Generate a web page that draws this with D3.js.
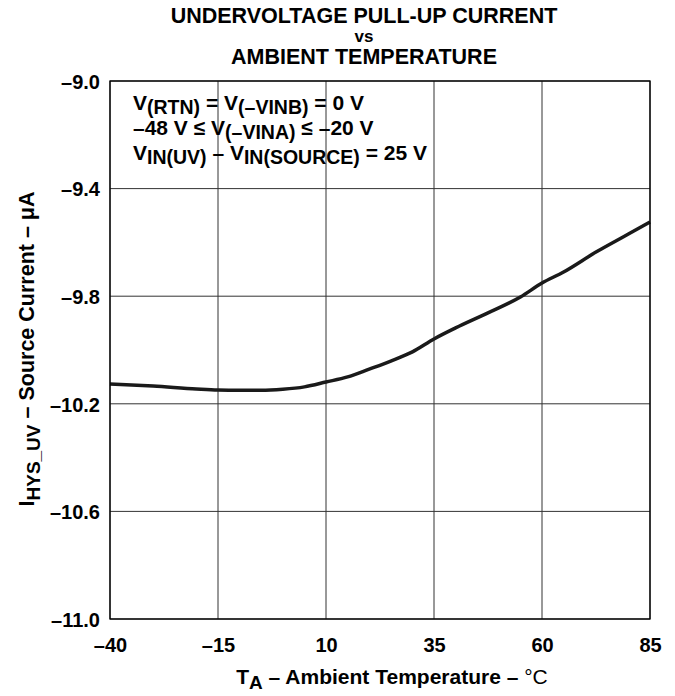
<!DOCTYPE html>
<html><head><meta charset="utf-8">
<script src="https://cdn.jsdelivr.net/npm/d3@7"></script>
<style>body{margin:0;background:#fff}text{font-family:"Liberation Sans",Arial,sans-serif;font-weight:bold;fill:#000}</style>
</head><body><svg id="c" width="675" height="696"></svg>
<script>
const temps = [-40,-30,-20,-15,-10,-5,0,5,10,15,20,25,30,35,40,47.5,55,60,65,72.5,80,85];
const current = [-10.126,-10.134,-10.145,-10.149,-10.150,-10.150,-10.146,-10.137,-10.119,-10.100,-10.071,-10.041,-10.007,-9.959,-9.918,-9.862,-9.803,-9.751,-9.710,-9.636,-9.569,-9.524];
const xTicks = [-40,-15,10,35,60,85];
const yTicks = [-9.0,-9.4,-9.8,-10.2,-10.6,-11.0];

const svg = d3.select("#c");
const L=110,R=650,T=81,B=619;
const x = d3.scaleLinear().domain([-40,85]).range([L,R]);
const y = d3.scaleLinear().domain([-11.0,-9.0]).range([B,T]);

// grid
svg.append("g").selectAll("line").data(xTicks).join("line")
  .attr("x1",d=>x(d)).attr("x2",d=>x(d)).attr("y1",T).attr("y2",B)
  .attr("stroke","#333").attr("stroke-width",1);
svg.append("g").selectAll("line").data(yTicks).join("line")
  .attr("x1",L).attr("x2",R).attr("y1",d=>y(d)).attr("y2",d=>y(d))
  .attr("stroke","#333").attr("stroke-width",1);

// curve
svg.append("path").datum(temps.map((t,i)=>[t,current[i]]))
  .attr("d",d3.line().x(d=>x(d[0])).y(d=>y(d[1])).curve(d3.curveMonotoneX))
  .attr("fill","none").attr("stroke","#1a1a1a").attr("stroke-width",3.5).attr("stroke-linejoin","round");

// frame
svg.append("rect").attr("x",L).attr("y",T).attr("width",R-L).attr("height",B-T)
  .attr("fill","none").attr("stroke","#000").attr("stroke-width",1.3);

// axes labels via d3 axes
const xa = svg.append("g").attr("transform",`translate(0,${B})`)
  .call(d3.axisBottom(x).tickValues(xTicks).tickSize(0).tickPadding(17).tickFormat(d=>(d<0?"–":"")+Math.abs(d)));
const ya = svg.append("g").attr("transform",`translate(${L},0)`)
  .call(d3.axisLeft(y).tickValues(yTicks).tickSize(0).tickPadding(10).tickFormat(d=>(d<0?"–":"")+Math.abs(d).toFixed(1)));
[xa,ya].forEach(g=>{g.select(".domain").remove();g.selectAll("text").style("font-size","20px").style("font-family","'Liberation Sans',Arial,sans-serif").style("font-weight","bold").attr("fill","#000");});
xa.selectAll("text").attr("dy",0).attr("y",33);
ya.selectAll("text").attr("dy","0.36em");

// title
const title = svg.append("g");
title.append("text").attr("x",364).attr("y",23).attr("text-anchor","middle").style("font-size","21.5px").text("UNDERVOLTAGE PULL-UP CURRENT");
title.append("text").attr("x",364).attr("y",42).attr("text-anchor","middle").style("font-size","17px").text("vs");
title.append("text").attr("x",364).attr("y",64).attr("text-anchor","middle").style("font-size","21.5px").text("AMBIENT TEMPERATURE");

// x axis title
const xt = svg.append("text").attr("x",392).attr("y",684).attr("text-anchor","middle").style("font-size","21px");
xt.append("tspan").text("T");
xt.append("tspan").attr("dy",5).style("font-size","19px").text("A");
xt.append("tspan").attr("dy",-5).text(" – Ambient Temperature – ");
xt.append("tspan").style("font-weight","normal").text("°C");

// y axis title
const yt = svg.append("text").attr("transform","translate(34,349) rotate(-90)").attr("text-anchor","middle").style("font-size","21.5px");
yt.append("tspan").text("I");
yt.append("tspan").attr("dy",6).style("font-size","19px").text("HYS_UV");
yt.append("tspan").attr("dy",-6).text(" – Source Current – μA");

// annotation
function annot(yy, parts){
  const t = svg.append("text").attr("x",133).attr("y",yy).style("font-size","21px");
  let cur=0;
  parts.forEach(([s,sub])=>{
    const target = sub?4:0;
    t.append("tspan").attr("dy",target-cur).style("font-size",sub?"19.5px":"21px").text(s);
    cur=target;
  });
}
annot(110,[["V",0],["(RTN)",1],[" = V",0],["(–VINB)",1],[" = 0 V",0]]);
annot(135,[["–48 V ≤ V",0],["(–VINA)",1],[" ≤ –20 V",0]]);
annot(160,[["V",0],["IN(UV)",1],[" – V",0],["IN(SOURCE)",1],[" = 25 V",0]]);
</script></body></html>
